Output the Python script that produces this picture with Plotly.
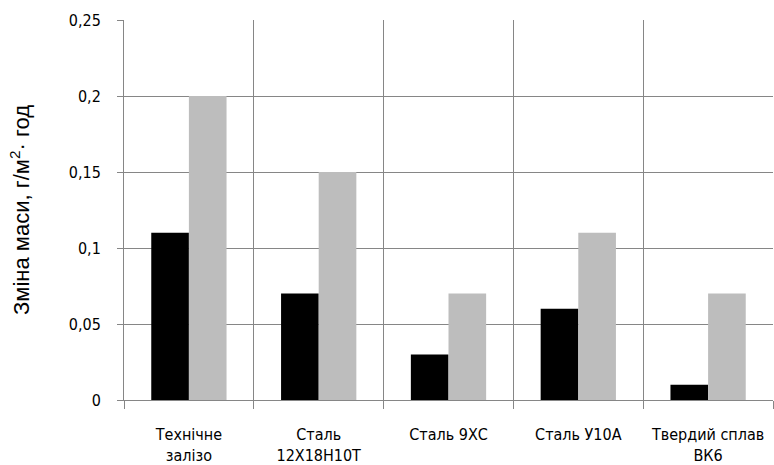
import plotly.graph_objects as go

categories = ["Технічне<br>залізо", "Сталь<br>12Х18Н10Т", "Сталь 9ХС", "Сталь У10А", "Твердий сплав<br>ВК6"]
series_black = [0.11, 0.07, 0.03, 0.06, 0.01]
series_gray = [0.20, 0.15, 0.07, 0.11, 0.07]
y_tickvals = [0, 0.05, 0.1, 0.15, 0.2, 0.25]
y_ticktext = ["0", "0,05", "0,1", "0,15", "0,2", "0,25"]
y_title = "Зміна маси, г/м<sup>2</sup>· год"

tick_font = "DejaVu Sans Condensed, Liberation Sans Narrow, Arial"

fig = go.Figure()
fig.add_trace(go.Bar(x=categories, y=series_black, marker=dict(color="#000000", line=dict(width=0))))
fig.add_trace(go.Bar(x=categories, y=series_gray, marker=dict(color="#BDBDBD", line=dict(width=0))))

fig.update_layout(
    width=774, height=465,
    margin=dict(l=124, r=1, t=20, b=65),
    paper_bgcolor="white", plot_bgcolor="white",
    showlegend=False,
    barmode="group", bargap=0.42, bargroupgap=0,
    font=dict(family=tick_font, color="black"),
)
fig.update_xaxes(
    type="category", tickson="boundaries", range=[-0.5, 4.5], automargin=False,
    showgrid=True, gridcolor="#868686", gridwidth=1,
    showline=True, linecolor="#868686", linewidth=1,
    ticks="outside", ticklen=8, tickcolor="#868686", tickwidth=1,
    tickfont=dict(size=16, family=tick_font),
    ticklabelstandoff=20,
)
fig.update_yaxes(
    range=[0, 0.25], tickvals=y_tickvals, ticktext=y_ticktext, automargin=False,
    showgrid=True, gridcolor="#868686", gridwidth=1,
    showline=True, linecolor="#868686", linewidth=1,
    ticks="outside", ticklen=6, tickcolor="#868686",
    tickfont=dict(size=16, family=tick_font),
    ticklabelstandoff=13,
    zeroline=False,
)
fig.add_annotation(
    text=y_title, xref="paper", yref="paper", x=0, y=0.5, xshift=-104,
    xanchor="center", yanchor="middle", textangle=-90, showarrow=False,
    font=dict(size=22, family="Liberation Sans, Arial", color="black"),
)

fig.write_html(
    "out.html",
    config={"responsive": False, "displayModeBar": False},
    post_script="document.body.style.margin='0';document.body.style.overflow='hidden';",
)
